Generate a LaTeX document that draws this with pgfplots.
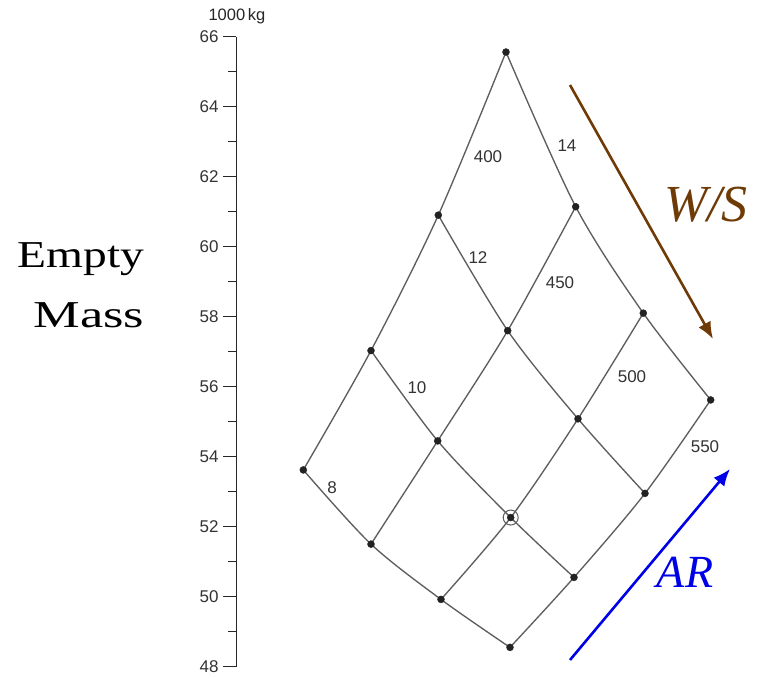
\documentclass[border=0pt]{standalone}
\usepackage{pgfplots}
\pgfplotsset{compat=1.18}
\usepackage{fontspec}
\setmainfont{Liberation Sans}
\newfontfamily\seriffont{Liberation Serif}
\usepackage{graphicx}
\usetikzlibrary{arrows.meta}

\definecolor{gridline}{HTML}{5E5E5E}
\definecolor{dotcol}{HTML}{222222}
\definecolor{ticktext}{HTML}{333333}
\definecolor{wsbrown}{HTML}{6E3A06}
\definecolor{arblue}{HTML}{0000E6}

\tikzset{
  carpet/.style={gridline, line width=1.35pt, smooth},
  dots/.style={only marks, mark=*, mark size=3.5pt, dotcol},
  lbl/.style={font=\fontsize{17}{17}\selectfont, text=ticktext},
}

\begin{document}
\begin{tikzpicture}
\begin{axis}[
  x=1pt, y=35pt,
  xmin=236.5, xmax=769, ymin=48, ymax=66,
  axis x line=none, axis y line*=left,
  y axis line style={-, line width=1pt, color=black!85},
  ytick={48,50,...,66}, minor ytick={49,51,...,65},
  tick align=outside,
  major tick length=13pt, minor tick length=8pt,
  tick style={line width=1pt, color=black!85},
  yticklabel style={font=\fontsize{17}{17}\selectfont, text=ticktext, xshift=-1.5pt},
  /pgf/number format/assume math mode=true,
  clip=false,
]
% lines of constant wing loading W/S (400, 450, 500, 550)
\addplot[carpet] coordinates {(303.3,53.63) (371.0,57.04) (438.3,60.91) (506.0,65.57)};
\addplot[carpet] coordinates {(371.0,51.51) (437.7,54.46) (507.7,57.61) (575.7,61.15)};
\addplot[carpet] coordinates {(441.0,49.93) (510.7,52.27) (578.0,55.09) (643.3,58.11)};
\addplot[carpet] coordinates {(510.0,48.56) (574.0,50.56) (645.0,52.96) (710.7,55.63)};
% lines of constant aspect ratio AR (8, 10, 12, 14)
\addplot[carpet] coordinates {(303.3,53.63) (371.0,51.51) (441.0,49.93) (510.0,48.56)};
\addplot[carpet] coordinates {(371.0,57.04) (437.7,54.46) (510.7,52.27) (574.0,50.56)};
\addplot[carpet] coordinates {(438.3,60.91) (507.7,57.61) (578.0,55.09) (645.0,52.96)};
\addplot[carpet] coordinates {(506.0,65.57) (575.7,61.15) (643.3,58.11) (710.7,55.63)};
% grid nodes
\addplot[dots] coordinates {
  (303.3,53.63) (371.0,57.04) (438.3,60.91) (506.0,65.57)
  (371.0,51.51) (437.7,54.46) (507.7,57.61) (575.7,61.15)
  (441.0,49.93) (510.7,52.27) (578.0,55.09) (643.3,58.11)
  (510.0,48.56) (574.0,50.56) (645.0,52.96) (710.7,55.63)};
% selected design point
\addplot[only marks, mark=o, mark size=7.5pt, gridline, line width=1pt] coordinates {(510.7,52.27)};

% curve labels
\node[lbl] at (axis cs:488,62.57) {400};
\node[lbl] at (axis cs:560,58.97) {450};
\node[lbl] at (axis cs:632,56.29) {500};
\node[lbl] at (axis cs:705,54.29) {550};
\node[lbl] at (axis cs:567,62.89) {14};
\node[lbl] at (axis cs:478,59.71) {12};
\node[lbl] at (axis cs:417,55.97) {10};
\node[lbl] at (axis cs:332,53.11) {8};

% unit above the axis
\node[font=\fontsize{16.5}{16.5}\selectfont, text=black!85] at (axis cs:237,66.6) {1000\,kg};

% axis title
\node[anchor=base, font=\seriffont\fontsize{38}{38}\selectfont] at (axis cs:81,59.40) {\scalebox{1.25}[1]{Empty}};
\node[anchor=base, font=\seriffont\fontsize{38}{38}\selectfont] at (axis cs:89,57.686) {\scalebox{1.38}[1]{Mass}};

% direction arrows
\draw[wsbrown, line width=2.6pt, -{Latex[length=17pt,width=14pt]}] (axis cs:570,64.629) -- (axis cs:713,57.371);
\draw[arblue, line width=2.6pt, -{Latex[length=17pt,width=14pt]}] (axis cs:570,48.2) -- (axis cs:730,53.657);
\node[anchor=base, wsbrown, font=\seriffont\itshape\fontsize{52}{52}\selectfont] at (axis cs:706,60.714) {W/S};
\node[anchor=base, arblue, font=\seriffont\itshape\fontsize{46}{46}\selectfont] at (axis cs:685,50.257) {AR};

\coordinate (bl) at (axis cs:0,47.657);
\coordinate (tr) at (axis cs:769,67.057);
\end{axis}
\pgfresetboundingbox
\useasboundingbox (bl) rectangle (tr);
\end{tikzpicture}
\end{document}
